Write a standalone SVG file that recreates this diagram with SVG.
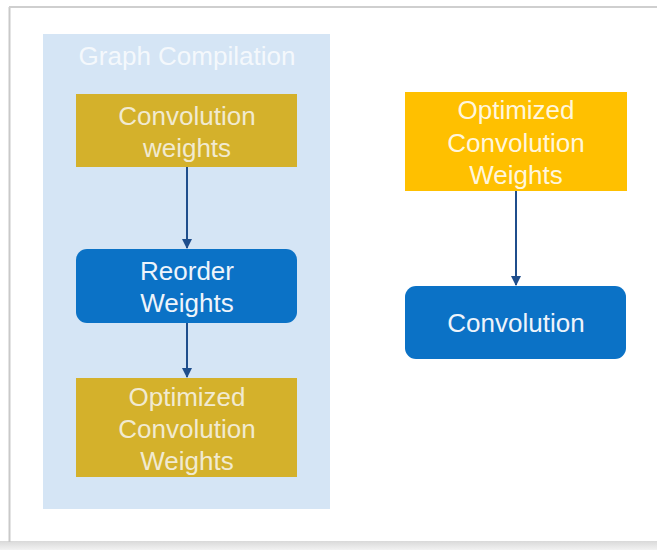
<svg xmlns="http://www.w3.org/2000/svg" width="657" height="550" viewBox="0 0 657 550">
  <defs>
    <marker id="arrow" viewBox="0 0 10 10" refX="9" refY="5" markerWidth="5" markerHeight="5" orient="auto" markerUnits="strokeWidth">
      <path d="M0,0 L10,5 L0,10 z" fill="#1f4e8c"/>
    </marker>
    <linearGradient id="bottomShade" x1="0" y1="0" x2="0" y2="1">
      <stop offset="0" stop-color="#d9d9d9"/>
      <stop offset="1" stop-color="#f2f2f2"/>
    </linearGradient>
  </defs>
  <style>
    .lbl { font-family: "Liberation Sans", Arial, sans-serif; font-size: 26px; text-anchor: middle; }
    .gold { fill: #d4b12b; }
    .goldText { fill: #f1ead0; }
    .blue { fill: #0b72c6; }
    .blueText { fill: #eef4fb; }
    .yellow { fill: #ffc000; }
    .yellowText { fill: #fff6dc; }
    .conn { stroke: #1f4e8c; stroke-width: 2; fill: none; marker-end: url(#arrow); }
  </style>

  <!-- page background and frame -->
  <rect x="0" y="0" width="657" height="550" fill="#ffffff"/>
  <rect x="0" y="541" width="657" height="9" fill="url(#bottomShade)"/>
  <line x1="9.5" y1="7" x2="9.5" y2="542" stroke="#c9c9c9" stroke-width="2"/>
  <line x1="9" y1="7" x2="657" y2="7" stroke="#cfcfcf" stroke-width="2"/>

  <!-- graph compilation container -->
  <g id="graph-compilation">
    <rect x="43" y="34" width="287" height="475" fill="#d5e5f5"/>
    <text class="lbl" x="187" y="65" fill="#f4f8fc">Graph Compilation</text>
  </g>

  <g id="conv-weights">
    <rect class="gold" x="76" y="94" width="221" height="73"/>
    <text class="lbl goldText" x="187" y="125">Convolution</text>
    <text class="lbl goldText" x="187" y="157">weights</text>
  </g>

  <g id="reorder-weights">
    <rect class="blue" x="76" y="249" width="221" height="74" rx="11"/>
    <text class="lbl blueText" x="187" y="280">Reorder</text>
    <text class="lbl blueText" x="187" y="312">Weights</text>
  </g>

  <g id="optimized-weights-left">
    <rect class="gold" x="76" y="378" width="221" height="99"/>
    <text class="lbl goldText" x="187" y="406">Optimized</text>
    <text class="lbl goldText" x="187" y="438">Convolution</text>
    <text class="lbl goldText" x="187" y="470">Weights</text>
  </g>

  <g id="optimized-weights-right">
    <rect class="yellow" x="405" y="92" width="222" height="99"/>
    <text class="lbl yellowText" x="516" y="119">Optimized</text>
    <text class="lbl yellowText" x="516" y="152">Convolution</text>
    <text class="lbl yellowText" x="516" y="184">Weights</text>
  </g>

  <g id="convolution">
    <rect class="blue" x="405" y="286" width="221" height="73" rx="11"/>
    <text class="lbl blueText" x="516" y="332">Convolution</text>
  </g>

  <g id="connectors">
    <line class="conn" x1="187" y1="167" x2="187" y2="248"/>
    <line class="conn" x1="187" y1="323" x2="187" y2="377"/>
    <line class="conn" x1="516" y1="191" x2="516" y2="285"/>
  </g>
</svg>
